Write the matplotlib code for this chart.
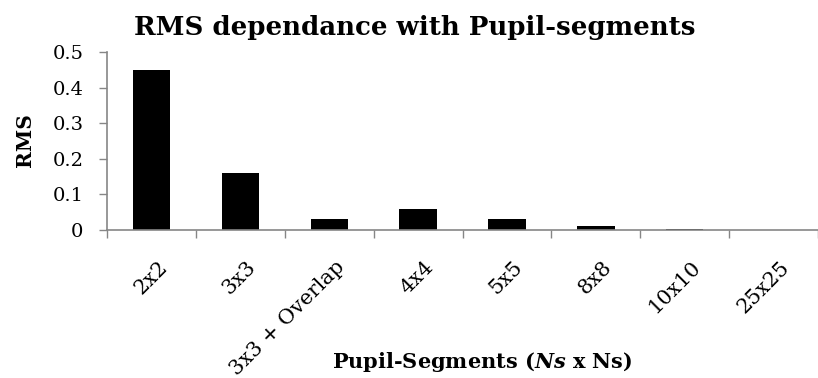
import matplotlib.pyplot as plt
from matplotlib.transforms import ScaledTranslation
import numpy as np

plt.rcParams['font.family'] = ['DejaVu Serif']
plt.rcParams['mathtext.fontset'] = 'custom'
plt.rcParams['mathtext.it'] = 'DejaVu Serif:italic:bold'
plt.rcParams['mathtext.rm'] = 'DejaVu Serif:bold'

# RMS per pupil segmentation
segments = ['2x2', '3x3', '3x3 + Overlap', '4x4', '5x5', '8x8', '10x10', '25x25']
rms = [0.45, 0.16, 0.03, 0.06, 0.03, 0.01, 0.002, 0.0]

axis_gray = '#868686'

fig = plt.figure(figsize=(8.18, 3.78), dpi=100)
ax = fig.add_axes([0.131, 0.392, 0.869, 0.470])

x = np.arange(len(segments))
ax.bar(x, rms, width=0.42, color='black')

ax.set_xlim(-0.5, len(segments) - 0.5)
ax.set_ylim(0, 0.5)
ax.set_yticks(np.arange(0, 0.51, 0.1))
ax.set_yticklabels(['0', '0.1', '0.2', '0.3', '0.4', '0.5'], fontsize=14)

# category ticks sit between bars, labels under bar centres
ax.set_xticks(np.arange(-0.5, len(segments) - 0.4, 1))
ax.set_xticklabels([])
ax.set_xticks(x, minor=True)
ax.set_xticklabels(segments, minor=True, rotation=45, ha='right', va='top',
                   rotation_mode='anchor', fontsize=15)
ax.tick_params(axis='x', which='minor', length=0, pad=20)
ax.tick_params(axis='x', which='major', length=6, color=axis_gray, width=1)
ax.tick_params(axis='y', length=6, color=axis_gray, width=1, pad=11)

shift = ScaledTranslation(6 / 100, 0, fig.dpi_scale_trans)
for lbl in ax.get_xticklabels(minor=True):
    lbl.set_transform(lbl.get_transform() + shift)

for side in ['top', 'right']:
    ax.spines[side].set_visible(False)
for side in ['left', 'bottom']:
    ax.spines[side].set_color(axis_gray)
    ax.spines[side].set_linewidth(1.2)

fig.text(0.507, 0.926, 'RMS dependance with Pupil-segments', ha='center', va='center',
         fontsize=18.7, fontweight='bold')
fig.text(0.031, 0.63, 'RMS', rotation=90, ha='center', va='center',
         fontsize=14.5, fontweight='bold')
fig.text(0.589, 0.042, 'Pupil-Segments ($Ns$ x Ns)', ha='center', va='center',
         fontsize=15, fontweight='bold')

fig.savefig('out.png', dpi=100)
